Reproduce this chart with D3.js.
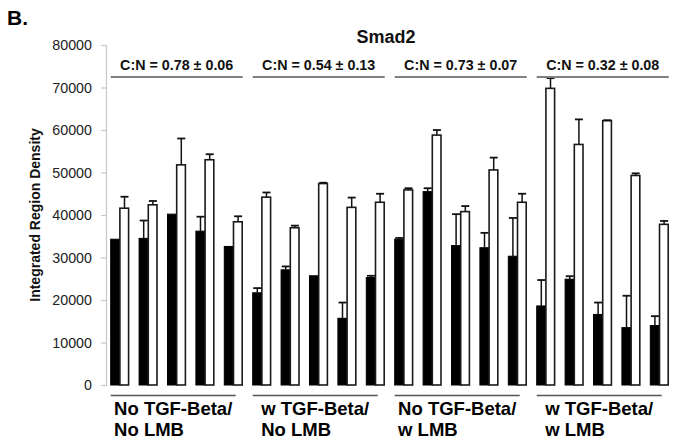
<!DOCTYPE html>
<html><head><meta charset="utf-8">
<script src="https://cdn.jsdelivr.net/npm/d3@7"></script>
<style>
html,body{margin:0;padding:0;background:#fff;}
svg text{font-family:"Liberation Sans",Arial,Helvetica,sans-serif;}
</style></head>
<body>
<svg id="chart" width="681" height="447"></svg>
<script>
// ---- data ----
const groupLabels = [["No TGF-Beta/","No LMB"],["w TGF-Beta/","No LMB"],["No TGF-Beta/","w LMB"],["w TGF-Beta/","w LMB"]];
const ratioLabels = ["C:N = 0.78 \u00b1 0.06","C:N = 0.54 \u00b1 0.13","C:N = 0.73 \u00b1 0.07","C:N = 0.32 \u00b1 0.08"];
const samplesPerGroup = 5;
const cytoplasm = [34300,34500,40200,36200,32600, 21700,27100,25700,15700,25300, 34300,45500,32800,32300,30300, 18600,24900,16600,13500,14000];
const cytoplasmErr = [0,4200,0,3400,0, 1100,800,0,3700,400, 300,800,7400,3500,9000, 6100,700,2800,7500,2200];
const nucleus = [41600,42400,51800,53000,38400, 44200,37000,47400,41800,43000, 45900,58800,40800,50600,43000, 69800,56600,62200,49300,37800];
const nucleusErr = [2700,900,6200,1300,1300, 1100,500,200,2300,2000, 400,1200,1300,2900,2000, 2400,5900,100,500,800];
const yTicks = [0,10000,20000,30000,40000,50000,60000,70000,80000];
const title = "Smad2";
const yTitle = "Integrated Region Density";
const panelLabel = "B.";

// ---- layout ----
const svg = d3.select("#chart");
const x0 = 106, x1 = 673.4, yBottom = 385, yTop = 45;
const idx = d3.range(cytoplasm.length);
const x = d3.scaleBand().domain(idx).range([x0, x1]).paddingInner(0.352).paddingOuter(0.165);
const xs = d3.scaleBand().domain(["c","n"]).range([0, x.bandwidth()]);
const y = d3.scaleLinear().domain([0, 80000]).range([yBottom, yTop]);

// panel label & title
svg.append("text").attr("x",7).attr("y",25).attr("font-size",21).attr("font-weight","bold").attr("fill","#000").text(panelLabel);
svg.append("text").attr("x",386).attr("y",42.5).attr("text-anchor","middle").attr("font-size",18).attr("font-weight","bold").attr("fill","#111").text(title);

// y axis
const yAxis = d3.axisLeft(y).tickValues(yTicks).tickSize(5).tickPadding(9).tickFormat(d3.format("d"));
const ga = svg.append("g").attr("transform",`translate(${x0},0)`).call(yAxis);
ga.select(".domain").attr("stroke","#c8c8c8").attr("stroke-width",1.2);
ga.selectAll(".tick line").attr("stroke","#c8c8c8").attr("stroke-width",1.2);
ga.selectAll(".tick text").attr("font-size",14.3).attr("fill","#222").attr("font-family","Liberation Sans,Arial,sans-serif");

svg.append("text").attr("transform",`translate(39.5,${(yTop+yBottom)/2}) rotate(-90)`)
  .attr("text-anchor","middle").attr("font-size",14).attr("font-weight","bold").attr("fill","#111").text(yTitle);

// bars
const bars = svg.append("g");
idx.forEach(i => {
  const bx = x(i);
  bars.append("rect").attr("x", bx + xs("c")).attr("y", y(cytoplasm[i])).attr("width", xs.bandwidth())
    .attr("height", yBottom - y(cytoplasm[i])).attr("fill","#000").attr("stroke","#000").attr("stroke-width",1);
  bars.append("rect").attr("x", bx + xs("n")).attr("y", y(nucleus[i])).attr("width", xs.bandwidth()-0.5)
    .attr("height", yBottom - y(nucleus[i])).attr("fill","#fff").attr("stroke","#1a1a1a").attr("stroke-width",1.6);
});

// error bars (upper)
const errs = svg.append("g").attr("stroke","#111").attr("stroke-width",1.5);
function errBar(cx, v, e){
  if(e <= 0) return;
  errs.append("line").attr("x1",cx).attr("x2",cx).attr("y1",y(v)).attr("y2",y(v+e));
  errs.append("line").attr("x1",cx-4).attr("x2",cx+4).attr("y1",y(v+e)).attr("y2",y(v+e)).attr("stroke-width",1.8);
}
idx.forEach(i => {
  const bx = x(i);
  errBar(bx + xs("c") + xs.bandwidth()/2, cytoplasm[i], cytoplasmErr[i]);
  errBar(bx + xs("n") + xs.bandwidth()/2, nucleus[i], nucleusErr[i]);
});

// group lines and labels
groupLabels.forEach((lab, g) => {
  const first = g*samplesPerGroup, last = first + samplesPerGroup - 1;
  const gx0 = x(first), gx1 = x(last) + x.bandwidth();
  const cx = (gx0 + gx1)/2;
  svg.append("line").attr("x1",gx0).attr("x2",gx1).attr("y1",77).attr("y2",77).attr("stroke","#808080").attr("stroke-width",2);
  svg.append("text").attr("x",cx).attr("y",69.5).attr("text-anchor","middle").attr("font-size",14.3).attr("font-weight","bold").attr("fill","#111").text(ratioLabels[g]);
  const bw = 125;
  svg.append("line").attr("x1",gx0).attr("x2",gx0+bw).attr("y1",395.5).attr("y2",395.5).attr("stroke","#555").attr("stroke-width",1.3);
  const t = svg.append("text").attr("y",415).attr("font-size",18.5).attr("font-weight","bold").attr("fill","#000");
  const spans = lab.map((l,k) => t.append("tspan").attr("dy", k===0?0:20.7).text(l));
  const w0 = spans[0].node().getComputedTextLength();
  const left = gx0 + bw/2 - w0/2;
  spans.forEach(s => s.attr("x", left));
});
</script>
</body></html>
